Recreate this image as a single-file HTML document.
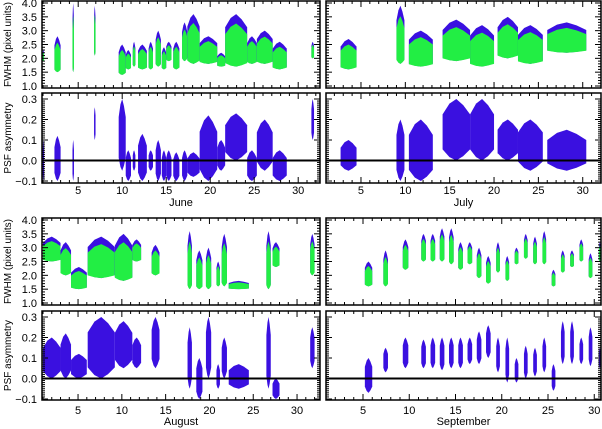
<!DOCTYPE html>
<html><head><meta charset="utf-8"><style>
html,body{margin:0;padding:0;background:#fff;}
svg{display:block;font-family:"Liberation Sans",sans-serif;}
</style></head><body>
<svg id="chart" width="602" height="429" viewBox="0 0 602 429" xmlns="http://www.w3.org/2000/svg"></svg>
<script>
// ---- Data: observing segments per month (day start, day end, FWHM low/high, PSF asymmetry low/high)
const juneStart=[0.95,2.3,4.35,6.8,9.6,10.4,11.2,11.8,13.0,13.8,14.5,15.0,15.8,16.8,17.4,18.8,20.8,21.7,24.2,25.3,27.1,31.5];
const juneEnd  =[1.1,3.0,4.45,6.9,10.4,11.0,11.5,12.8,13.5,14.4,15.0,15.6,16.5,17.4,18.8,20.8,21.7,24.2,25.3,27.1,28.7,31.8];
const juneFLo  =[1.9,1.5,1.5,2.1,1.4,1.6,1.7,1.6,1.6,1.7,1.6,1.9,1.6,1.9,1.8,1.8,1.7,1.7,1.8,1.8,1.6,2.0];
const juneFHi  =[2.3,2.8,4.0,3.9,2.5,2.3,2.6,2.5,2.6,3.0,2.4,2.6,2.6,3.3,3.6,2.8,2.2,3.6,2.8,3.0,2.6,2.6];
const junePLo  =[-0.1,-0.1,-0.1,0.1,-0.05,-0.1,-0.05,-0.1,-0.05,-0.1,-0.1,-0.1,-0.1,-0.1,-0.08,-0.1,-0.05,0.0,-0.1,-0.05,-0.1,0.1];
const junePHi  =[0.1,0.12,0.1,0.26,0.3,0.05,0.05,0.13,0.05,0.1,0.05,0.05,0.04,0.05,0.04,0.22,0.1,0.23,0.05,0.2,0.05,0.3];

const julyStart=[2.7,9.0,10.4,14.2,17.3,20.4,22.7,26.0];
const julyEnd  =[4.5,9.9,13.1,17.3,20.0,22.7,25.5,30.4];
const julyFLo  =[1.6,1.8,1.7,1.9,1.7,2.0,1.8,2.2];
const julyFHi  =[2.7,3.9,3.0,3.4,3.2,3.5,3.2,3.3];
const julyPLo  =[-0.05,-0.1,-0.1,0.0,0.0,0.0,-0.05,-0.05];
const julyPHi  =[0.1,0.2,0.2,0.3,0.3,0.2,0.2,0.15];

const augStart=[1.0,3.0,4.2,6.1,9.2,11.2,13.4,17.5,18.5,19.6,20.8,21.4,22.2,26.5,27.2,31.5];
const augEnd  =[3.0,4.2,6.0,9.2,11.2,12.2,14.3,18.0,19.2,20.2,21.2,22.0,24.5,27.0,28.0,32.0];
const augFLo  =[2.5,2.0,1.5,1.9,1.8,2.5,2.0,1.5,1.5,1.5,1.6,1.6,1.5,1.5,2.3,2.0];
const augFHi  =[3.4,3.2,2.3,3.4,3.5,3.3,3.1,3.6,2.9,3.0,2.5,3.5,1.8,3.6,3.2,3.5];
const augPLo  =[0.0,0.0,0.0,0.0,0.05,0.05,0.05,-0.05,-0.1,0.0,-0.05,0.0,-0.05,-0.05,-0.1,0.05];
const augPHi  =[0.2,0.22,0.12,0.3,0.28,0.2,0.3,0.25,0.1,0.3,0.07,0.2,0.07,0.3,0.0,0.25];

const sepStart=[5.2,7.2,9.3,11.3,12.3,13.3,14.3,15.3,16.3,17.3,18.3,19.4,20.4,21.4,22.4,23.4,24.4,25.4,26.4,27.4,28.4,29.4,30.5];
const sepEnd  =[6.0,7.7,9.9,11.8,12.8,13.8,14.8,15.8,16.8,17.8,18.8,19.8,20.8,21.8,22.8,23.8,24.8,25.8,26.8,27.8,28.8,29.8,30.9];
const sepFLo  =[1.6,1.6,2.2,2.5,2.5,2.5,2.4,2.2,2.4,1.9,1.7,2.1,1.8,2.4,2.6,2.4,2.4,1.6,2.1,2.3,2.5,1.9,2.5];
const sepFHi  =[2.5,2.9,3.3,3.5,3.5,3.7,3.7,3.2,3.2,3.0,2.7,3.2,2.7,3.0,3.5,3.4,3.6,2.2,2.9,2.9,3.3,2.8,3.2];
const sepPLo  =[-0.07,0.03,0.05,0.05,0.05,0.04,0.05,0.05,0.07,0.07,0.1,0.03,-0.02,-0.02,0.0,0.01,0.03,-0.06,0.07,0.07,0.07,0.06,0.05];
const sepPHi  =[0.1,0.15,0.2,0.19,0.2,0.2,0.2,0.2,0.2,0.23,0.26,0.2,0.2,0.1,0.16,0.15,0.2,0.07,0.28,0.28,0.2,0.25,0.15];

const fwhmTicks=["1.0","1.5","2.0","2.5","3.0","3.5","4.0"];
const psfTicks=["-0.1","0.0","0.1","0.2","0.3"];
const dayTicks=[5,10,15,20,25,30];

const NS="http://www.w3.org/2000/svg";
const svg=document.getElementById('chart');
function mk(tag,attrs,parent){const e=document.createElementNS(NS,tag);for(const k in attrs)e.setAttribute(k,attrs[k]);(parent||svg).appendChild(e);return e;}
function shape(x0,x1,top,bot,fracTop,fracBot){
  const xc=(x0+x1)/2, h=bot-top;
  const et=top+h*fracTop, eb=bot-h*fracBot;
  return `${x0},${et} ${(x0+xc)/2},${top+h*fracTop*0.3} ${xc},${top} ${(xc+x1)/2},${top+h*fracTop*0.4} ${x1},${et} ${x1},${eb} ${(xc+x1)/2},${bot-h*fracBot*0.4} ${xc},${bot} ${(x0+xc)/2},${bot-h*fracBot*0.3} ${x0},${eb}`;
}

const months=[
 {name:"June",x0:42,x1:320,d0:43,pd:8.8,fy0:1,fy1:88,py0:93,py1:183,lab:true,s:juneStart,e:juneEnd,fl:juneFLo,fh:juneFHi,pl:junePLo,ph:junePHi,ty:194,my:206},
 {name:"July",x0:326,x1:601,d0:325.5,pd:8.87,fy0:1,fy1:88,py0:93,py1:183,lab:false,s:julyStart,e:julyEnd,fl:julyFLo,fh:julyFHi,pl:julyPLo,ph:julyPHi,ty:194,my:206},
 {name:"August",x0:42,x1:320,d0:43,pd:8.76,fy0:218,fy1:305,py0:311,py1:400,lab:true,s:augStart,e:augEnd,fl:augFLo,fh:augFHi,pl:augPLo,ph:augPHi,ty:414,my:425},
 {name:"September",x0:326,x1:601,d0:326,pd:9.25,fy0:218,fy1:305,py0:311,py1:400,lab:false,s:sepStart,e:sepEnd,fl:sepFLo,fh:sepFHi,pl:sepPLo,ph:sepPHi,ty:414,my:425}
];

months.forEach(m=>{
  const g=mk('g',{});
  
  
  const xs=d=>m.d0+(d-1)*m.pd;
  const clamp=(v,a,b)=>Math.max(a,Math.min(b,v));
  const fy=v=>clamp(m.fy0+2+(4.0-v)*(m.fy1-m.fy0-4)/3.0,m.fy0,m.fy1);
  const py=v=>clamp(m.py0+6+(0.3-v)*205,m.py0,m.py1);
  const xa=d=>clamp(xs(d),m.x0,m.x1);
  for(let i=0;i<m.s.length;i++){
    const x=xa(m.s[i]),x1=Math.max(x+1.5,xa(m.e[i]));
    const top=fy(m.fh[i]),bot=fy(m.fl[i]);
    const b=mk('polygon',{points:shape(x,x1,top,bot,0.25,0.08),fill:'#3a10e0'},g);
    
    
    const gt=fy(m.fl[i]+0.82*(m.fh[i]-m.fl[i]));
    const gr=mk('polygon',{points:shape(x,x1,gt,bot,0.25,0.08),fill:'#22ee44'},g);
    
    
  }
  for(let i=0;i<m.s.length;i++){
    const x=xa(m.s[i]),x1=Math.max(x+1.5,xa(m.e[i]));
    const top=py(m.ph[i]),bot=py(m.pl[i]);
    const r=mk('polygon',{points:shape(x,x1,top,bot,0.25,0.18),fill:'#3a10e0'},g);
    
    
  }
  const z=mk('line',{x1:m.x0,x2:m.x1,y1:py(0),y2:py(0),stroke:'#000','stroke-width':2},g);
  
  
  [[m.fy0,m.fy1,'fwhm-frame'],[m.py0,m.py1,'psf-frame']].forEach(([a,b,n])=>{
    const f=mk('rect',{x:m.x0,y:a,width:m.x1-m.x0,height:b-a,fill:'none',stroke:'#000','stroke-width':1.5},g);
    
    
    for(let d=1;d<=32;d++){
      const x=xs(d); if(x<m.x0+1||x>m.x1-1)continue;
      const L=(d%5===0)?6:3;
      mk('line',{x1:x,x2:x,y1:b,y2:b-L,stroke:'#000','stroke-width':1},g);
      mk('line',{x1:x,x2:x,y1:a,y2:a+L,stroke:'#000','stroke-width':1},g);
    }
  });
  for(let v=1.0;v<=4.001;v+=0.1){
    const y=fy(v),maj=Math.abs(v*2-Math.round(v*2))<0.01,L=maj?6:3;
    mk('line',{x1:m.x0,x2:m.x0+L,y1:y,y2:y,stroke:'#000'},g);
    mk('line',{x1:m.x1,x2:m.x1-L,y1:y,y2:y,stroke:'#000'},g);
  }
  for(let v=-0.1;v<=0.301;v+=0.01){
    const y=py(v),maj=Math.abs(v*10-Math.round(v*10))<0.01,L=maj?6:3;
    mk('line',{x1:m.x0,x2:m.x0+L,y1:y,y2:y,stroke:'#000'},g);
    mk('line',{x1:m.x1,x2:m.x1-L,y1:y,y2:y,stroke:'#000'},g);
  }
  dayTicks.forEach(d=>{
    const t=mk('text',{x:xs(d),y:m.ty,'font-size':11,'text-anchor':'middle'},g);
    t.textContent=d;
    
    
  });
  const ml=mk('text',{x:(m.x0+m.x1)/2,y:m.my,'font-size':11,'text-anchor':'middle'},g);
  ml.textContent=m.name;
  
  
  if(m.lab){
    fwhmTicks.forEach(s=>{
      const t=mk('text',{x:37,y:fy(parseFloat(s))+4,'font-size':11,'text-anchor':'end'},g);
      t.textContent=s;
      
      
    });
    psfTicks.forEach(s=>{
      const t=mk('text',{x:37,y:py(parseFloat(s))+4,'font-size':11,'text-anchor':'end'},g);
      t.textContent=s.replace('-','\u2212');
      
      
    });
    const yc1=(m.fy0+m.fy1)/2,yc2=(m.py0+m.py1)/2;
    const t1=mk('text',{x:11,y:yc1,'font-size':10,'text-anchor':'middle',transform:`rotate(-90 11 ${yc1})`},g);
    t1.textContent='FWHM (pixel units)';
    
    
    const t2=mk('text',{x:11,y:yc2,'font-size':10,'text-anchor':'middle',transform:`rotate(-90 11 ${yc2})`},g);
    t2.textContent='PSF asymmetry';
    
    
  }
});
</script>
</body></html>
